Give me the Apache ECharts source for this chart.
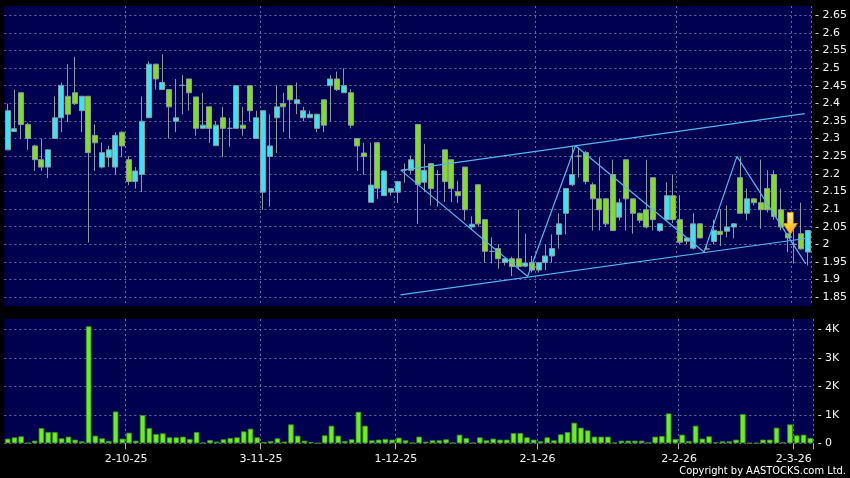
<!DOCTYPE html>
<html><head><meta charset="utf-8">
<script src="https://cdn.jsdelivr.net/npm/echarts@6/dist/echarts.min.js"></script>
<style>html,body{margin:0;padding:0;background:#000;}#c{width:850px;height:478px;}</style>
</head><body><div id="c"></div>
<script>
const dates = ['5-9-25','8-9-25','9-9-25','10-9-25','11-9-25','12-9-25','15-9-25','16-9-25','17-9-25','18-9-25','19-9-25','22-9-25','23-9-25','24-9-25','25-9-25','26-9-25','29-9-25','30-9-25',
'2-10-25','3-10-25','6-10-25','8-10-25','9-10-25','10-10-25','13-10-25','14-10-25','15-10-25','16-10-25','17-10-25','20-10-25','21-10-25','22-10-25','23-10-25','24-10-25','27-10-25','28-10-25','30-10-25','31-10-25',
'3-11-25','4-11-25','5-11-25','6-11-25','7-11-25','10-11-25','11-11-25','12-11-25','13-11-25','14-11-25','17-11-25','18-11-25','19-11-25','20-11-25','21-11-25','24-11-25','25-11-25','26-11-25','27-11-25','28-11-25',
'1-12-25','2-12-25','3-12-25','4-12-25','5-12-25','8-12-25','9-12-25','10-12-25','11-12-25','12-12-25','15-12-25','16-12-25','17-12-25','18-12-25','19-12-25','22-12-25','23-12-25','24-12-25','29-12-25','30-12-25','31-12-25',
'2-1-26','5-1-26','6-1-26','7-1-26','8-1-26','9-1-26','12-1-26','13-1-26','14-1-26','15-1-26','16-1-26','19-1-26','20-1-26','21-1-26','22-1-26','23-1-26','26-1-26','27-1-26','28-1-26','29-1-26','30-1-26',
'2-2-26','3-2-26','4-2-26','5-2-26','6-2-26','9-2-26','10-2-26','11-2-26','12-2-26','13-2-26','16-2-26','20-2-26','23-2-26','24-2-26','25-2-26','26-2-26','27-2-26',
'2-3-26','3-3-26','4-3-26'];

const open = [2.268,2.320,2.430,2.340,2.279,2.240,2.219,2.300,2.359,2.420,
2.430,2.379,2.420,2.309,2.219,2.247,2.219,2.318,2.240,2.178,
2.198,2.359,2.511,2.439,2.439,2.349,2.451,2.469,2.418,2.329,
2.390,2.280,2.359,2.329,2.329,2.338,2.450,2.300,2.148,2.249,
2.359,2.399,2.450,2.399,2.359,2.359,2.329,2.410,2.450,2.469,
2.430,2.430,2.300,2.259,2.119,2.288,2.138,2.148,2.148,2.210,
2.210,2.340,2.176,2.229,2.198,2.268,2.240,2.149,2.219,2.049,
2.169,2.070,1.980,1.988,1.948,1.959,1.959,1.938,1.948,1.927,
1.948,1.967,2.028,2.088,2.169,2.250,2.260,2.169,2.129,2.129,
2.198,2.077,2.240,2.129,2.088,2.098,2.189,2.039,2.070,2.138,
2.070,2.009,1.989,2.058,1.987,2.008,2.037,2.037,2.049,2.189,
2.088,2.129,2.118,2.158,2.198,2.098,2.030,2.000,2.030,1.978];

const close = [2.379,2.328,2.340,2.300,2.240,2.219,2.268,2.359,2.451,2.369,
2.399,2.420,2.260,2.288,2.260,2.268,2.309,2.279,2.178,2.208,
2.349,2.511,2.469,2.459,2.390,2.359,2.451,2.430,2.329,2.338,
2.329,2.338,2.329,2.329,2.450,2.329,2.379,2.359,2.379,2.279,
2.390,2.390,2.410,2.410,2.379,2.369,2.369,2.338,2.469,2.439,
2.450,2.338,2.279,2.249,2.168,2.159,2.208,2.158,2.178,2.210,
2.240,2.170,2.210,2.158,2.198,2.178,2.158,2.138,2.098,2.057,
2.058,1.980,1.980,1.959,1.959,1.937,1.937,1.947,1.927,1.948,
1.967,1.988,2.058,2.158,2.198,2.250,2.178,2.129,2.098,2.058,
2.039,2.118,2.129,2.088,2.068,2.049,2.070,2.058,2.138,2.070,
2.006,2.018,2.058,2.018,1.987,2.040,2.028,2.049,2.058,2.088,
2.129,2.118,2.098,2.098,2.079,2.049,2.018,2.000,1.987,2.039];

const low = [2.268,2.318,2.300,2.268,2.208,2.208,2.188,2.300,2.318,2.347,
2.395,2.318,2.005,2.208,2.215,2.219,2.197,2.247,2.168,2.158,
2.148,2.359,2.439,2.439,2.300,2.318,2.369,2.379,2.308,2.329,
2.288,2.280,2.247,2.277,2.329,2.308,2.349,2.300,2.098,2.107,
2.259,2.318,2.300,2.369,2.349,2.359,2.318,2.318,2.349,2.435,
2.430,2.329,2.208,2.197,2.119,2.129,2.138,2.138,2.117,2.175,
2.200,2.058,2.148,2.110,2.107,2.120,2.120,2.117,2.068,2.041,
2.050,1.948,1.946,1.931,1.940,1.910,1.930,1.935,1.920,1.920,
1.927,1.948,1.988,2.028,2.165,2.190,2.170,2.039,2.039,2.050,
2.039,2.068,2.039,2.030,2.060,2.045,2.039,2.035,2.065,2.060,
2.000,2.000,1.985,2.018,1.985,2.000,1.995,2.020,2.017,2.088,
2.068,2.110,2.044,2.090,2.070,2.040,1.978,1.946,1.985,1.940];

const high = [2.399,2.439,2.430,2.345,2.282,2.300,2.270,2.420,2.459,2.511,
2.532,2.420,2.420,2.340,2.288,2.279,2.318,2.320,2.250,2.219,
2.420,2.519,2.511,2.539,2.440,2.469,2.480,2.469,2.418,2.430,
2.390,2.349,2.390,2.359,2.450,2.390,2.450,2.379,2.379,2.369,
2.451,2.430,2.450,2.459,2.390,2.379,2.370,2.410,2.480,2.490,
2.499,2.440,2.300,2.288,2.288,2.288,2.210,2.160,2.180,2.229,
2.252,2.340,2.285,2.230,2.210,2.268,2.240,2.180,2.219,2.079,
2.170,2.070,2.020,2.000,1.960,1.965,2.098,2.030,1.967,1.950,
2.000,2.028,2.088,2.160,2.280,2.275,2.265,2.175,2.247,2.130,
2.240,2.130,2.240,2.130,2.090,2.240,2.190,2.060,2.176,2.198,
2.139,2.020,2.088,2.060,1.995,2.070,2.100,2.110,2.060,2.247,
2.158,2.130,2.240,2.210,2.210,2.158,2.030,2.044,2.118,2.040];

const volume = [163,209,244,20,93,535,395,395,174,233,
128,70,4105,267,174,81,1116,163,372,93,
988,535,326,349,209,209,233,151,395,23,
116,58,140,186,209,419,512,209,47,81,
174,58,663,267,93,47,10,279,616,267,
81,140,1105,616,105,128,151,128,198,105,
23,233,58,105,105,140,23,302,186,23,
209,105,163,128,128,360,360,209,128,70,
209,105,314,395,721,547,453,233,233,233,
23,93,93,93,93,35,233,256,1047,151,
302,81,616,163,244,35,70,70,128,1023,
12,10,128,128,547,35,663,279,302,186];

const priceTicks = [1.85,1.9,1.95,2,2.05,2.1,2.15,2.2,2.25,2.3,2.35,2.4,2.45,2.5,2.55,2.6,2.65];
const volumeTicks = [0,1000,2000,3000,4000];

// annotation lines: [position in trading days, price]
const upperChannel = [[58.42, 2.2097], [118.56, 2.3707]];
const lowerChannel = [[58.42, 1.8565], [118.67, 2.0165]];
const zigzag = [[58.51, 2.2097], [77.34, 1.9085], [84.46, 2.2798], [103.59, 1.9781], [108.48, 2.2494], [118.71, 1.9446]];
const arrowAt = [116.4, 2.059];

const chart = echarts.init(document.getElementById('c'), null, {renderer: 'canvas'});
const isMonthStart = (i) => i > 0 && dates[i].split('-')[1] !== dates[i - 1].split('-')[1];
const dash = {show: true, lineStyle: {color: '#6a6a9c', type: [2, 3], width: 1}};
const FONT = 'DejaVu Sans';
const gL = 4.33, gW = 809.3;

const option = {
  backgroundColor: '#000000',
  animation: false,
  grid: [
    {left: gL, top: 6, width: gW, height: 300, show: true, backgroundColor: '#000050', borderWidth: 0},
    {left: gL, top: 319, width: gW, height: 124.3, show: true, backgroundColor: '#000050', borderWidth: 0}
  ],
  xAxis: [
    {type: 'category', gridIndex: 0, data: dates, boundaryGap: true,
     axisLine: {show: false}, axisTick: {show: false}, axisLabel: {show: false},
     splitLine: Object.assign({interval: (i) => isMonthStart(i)}, dash)},
    {type: 'category', gridIndex: 1, data: dates, boundaryGap: true,
     axisLine: {show: false},
     axisTick: {show: true, interval: (i) => isMonthStart(i), length: 6, lineStyle: {color: '#b0b0b0'}},
     axisLabel: {interval: (i) => isMonthStart(i), color: '#f2f2f2', fontFamily: FONT, fontSize: 11, margin: 10, padding: [0, 6, 0, 0]},
     splitLine: Object.assign({interval: (i) => isMonthStart(i)}, dash)},
    {type: 'value', gridIndex: 0, min: -0.5, max: 119.5, show: false}
  ],
  yAxis: [
    {type: 'value', gridIndex: 0, position: 'right', min: 1.825, max: 2.676, scale: true,
     axisLine: {show: false},
     axisTick: {show: false, customValues: priceTicks},
     axisLabel: {customValues: priceTicks, formatter: (v) => '- ' + v, margin: 4, color: '#f2f2f2', fontFamily: FONT, fontSize: 11},
     splitLine: dash},
    {type: 'value', gridIndex: 1, position: 'right', min: 0, max: 4360,
     axisLine: {show: false},
     axisTick: {show: false, customValues: volumeTicks},
     axisLabel: {customValues: volumeTicks, formatter: (v) => '- ' + (v === 0 ? '0' : (v / 1000) + 'K'), margin: 4, color: '#f2f2f2', fontFamily: FONT, fontSize: 11},
     splitLine: dash}
  ],
  series: [
    {type: 'candlestick', xAxisIndex: 0, yAxisIndex: 0, barWidth: 5.5,
     data: dates.map((d, i) => [open[i], close[i], low[i], high[i]]),
     itemStyle: {color: '#33e8f4', color0: '#7ee01e', borderColor: '#8d9a9a', borderColor0: '#8d9a9a', borderWidth: 1}},
    {type: 'bar', xAxisIndex: 1, yAxisIndex: 1, barWidth: 5.5, data: volume,
     itemStyle: {color: '#6cf01c', borderColor: '#3d8f12', borderWidth: 0.8}},
    {type: 'line', xAxisIndex: 2, yAxisIndex: 0, data: upperChannel, symbol: 'none', silent: true,
     lineStyle: {color: '#53b4ee', width: 1.2}},
    {type: 'line', xAxisIndex: 2, yAxisIndex: 0, data: lowerChannel, symbol: 'none', silent: true,
     lineStyle: {color: '#53b4ee', width: 1.2}},
    {type: 'line', xAxisIndex: 2, yAxisIndex: 0, data: zigzag, symbol: 'none', silent: true,
     lineStyle: {color: '#53b4ee', width: 1.2},
     markPoint: {
       symbol: 'path://M4,0 L10,0 L10,11 L14,11 L7,22 L0,11 L4,11 Z',
       symbolSize: [14, 22],
       label: {show: false},
       itemStyle: {color: new echarts.graphic.LinearGradient(0, 0, 0, 1, [{offset: 0, color: '#fff27a'}, {offset: 1, color: '#ffaa00'}]), borderColor: '#d98a00', borderWidth: 0.8},
       data: [{coord: arrowAt}]
     }}
  ],
  graphic: [
    {type: 'text', right: 4, top: 466, silent: true,
     style: {text: 'Copyright by AASTOCKS.com Ltd.', fill: '#ffffff', font: '11px "DejaVu Sans Condensed", "DejaVu Sans"'}}
  ]
};
chart.setOption(option);
</script>
</body></html>
